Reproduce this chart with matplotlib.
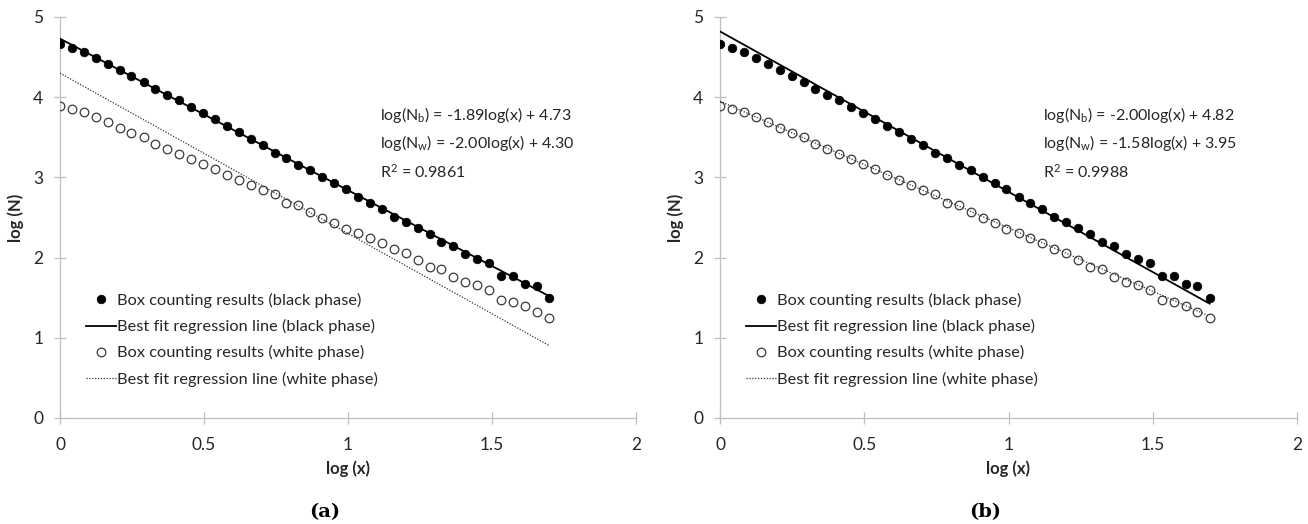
import matplotlib
matplotlib.use("Agg")
import matplotlib.pyplot as plt
import numpy as np

plt.rcParams['font.family'] = ['Lato', 'DejaVu Sans']
plt.rcParams['mathtext.fontset'] = 'custom'
plt.rcParams['mathtext.rm'] = 'Lato'
plt.rcParams['mathtext.it'] = 'Lato:italic'
plt.rcParams['mathtext.bf'] = 'Lato:bold'
plt.rcParams['axes.unicode_minus'] = False

# ---- data ----
log_x = [0.000, 0.041, 0.083, 0.124, 0.166, 0.207, 0.248, 0.290, 0.331, 0.372,
         0.414, 0.455, 0.497, 0.538, 0.579, 0.621, 0.662, 0.704, 0.745, 0.786,
         0.828, 0.869, 0.911, 0.952, 0.993, 1.035, 1.076, 1.117, 1.159, 1.200,
         1.242, 1.283, 1.324, 1.366, 1.407, 1.448, 1.490, 1.531, 1.573, 1.614,
         1.655, 1.697]
log_n_black = [4.66, 4.61, 4.56, 4.49, 4.41, 4.34, 4.26, 4.19, 4.10, 4.03,
               3.96, 3.88, 3.80, 3.73, 3.64, 3.57, 3.48, 3.40, 3.31, 3.24,
               3.15, 3.09, 3.00, 2.93, 2.85, 2.76, 2.68, 2.61, 2.51, 2.45,
               2.37, 2.29, 2.19, 2.14, 2.05, 1.98, 1.93, 1.77, 1.77, 1.67,
               1.64, 1.50]
log_n_white = [3.89, 3.85, 3.81, 3.75, 3.69, 3.62, 3.55, 3.50, 3.42, 3.35,
               3.29, 3.23, 3.17, 3.10, 3.03, 2.97, 2.90, 2.84, 2.79, 2.68,
               2.65, 2.57, 2.49, 2.43, 2.36, 2.31, 2.24, 2.18, 2.11, 2.06,
               1.97, 1.88, 1.86, 1.76, 1.70, 1.66, 1.60, 1.47, 1.45, 1.40,
               1.32, 1.25]

# regression coefficients per panel: (slope, intercept)
fit_black = {'a': (-1.89, 4.73), 'b': (-2.00, 4.82)}
fit_white = {'a': (-2.00, 4.30), 'b': (-1.58, 3.95)}
r_squared = {'a': '0.9861', 'b': '0.9988'}
panel_labels = ['(a)', '(b)']

legend_labels = ['Box counting results (black phase)',
                 'Best fit regression line (black phase)',
                 'Box counting results (white phase)',
                 'Best fit regression line (white phase)']

x_ticks = [0, 0.5, 1, 1.5, 2]
x_tick_labels = ['0', '0.5', '1', '1.5', '2']
y_ticks = [0, 1, 2, 3, 4, 5]

W, H = 1308, 524
fig = plt.figure(figsize=(W / 100, H / 100), dpi=100)

axes_px = {'a': (60, 636), 'b': (720, 1297)}
top_px, bot_px = 17, 418
text_col = '#262626'
grid_col = '#bfbfbf'

for key, plabel in zip(['a', 'b'], panel_labels):
    x0, x1 = axes_px[key]
    aw, ah = x1 - x0, bot_px - top_px
    ax = fig.add_axes([x0 / W, (H - bot_px) / H, aw / W, ah / H])
    xs = np.array(log_x)
    xl = np.array([xs.min(), xs.max()])

    sb, ib = fit_black[key]
    sw, iw = fit_white[key]

    ax.plot(xs, log_n_black, 'o', color='black', ms=6.2, mec='black', mew=0.5,
            zorder=3, label=legend_labels[0])
    ax.plot(xl, sb * xl + ib, '-', color='black', lw=1.3, zorder=4, label=legend_labels[1])
    ax.plot(xs, log_n_white, 'o', mfc='none', mec='#3a3a3a', ms=6.2, mew=0.9,
            zorder=3, label=legend_labels[2])
    ax.plot(xl, sw * xl + iw, color='#333333', lw=0.9, ls=(0, (1, 1.3)), zorder=4,
            label=legend_labels[3])

    ax.set_xlim(0, 2)
    ax.set_ylim(0, 5)
    ax.set_xticks(x_ticks)
    ax.set_xticklabels(x_tick_labels)
    ax.set_yticks(y_ticks)
    for s in ['top', 'right']:
        ax.spines[s].set_visible(False)
    for s in ['left', 'bottom']:
        ax.spines[s].set_color(grid_col)
        ax.spines[s].set_linewidth(0.9)
    ax.tick_params(axis='both', direction='inout', length=8, width=0.9, color=grid_col,
                   labelsize=12.5, labelcolor=text_col)
    ax.tick_params(axis='x', pad=10)
    ax.tick_params(axis='y', pad=8)

    ax.set_xlabel('log (x)', fontsize=12, fontweight='bold', color=text_col)
    ax.set_ylabel('log (N)', fontsize=12, fontweight='bold', color=text_col)
    ax.xaxis.set_label_coords(0.5, -0.105)
    ax.yaxis.set_label_coords(-0.062, 0.5)

    fmt = lambda v: ('%.2f' % v)
    t1 = r'log(N$_{\mathrm{b}}$) = %slog(x) + %s' % (fmt(sb), fmt(ib))
    t2 = r'log(N$_{\mathrm{w}}$) = %slog(x) + %s' % (fmt(sw), fmt(iw))
    t3 = r'R$^{2}$ = ' + r_squared[key]
    tx = 1.11 if key == 'a' else 1.12
    for t, yy in zip([t1, t2, t3], [3.78, 3.43, 3.07]):
        ax.text(tx, yy, t, fontsize=11.5, color=text_col, va='center', ha='left')

    leg = ax.legend(loc='upper left', bbox_to_anchor=(26 / aw, (bot_px - 293) / ah),
                    frameon=False, fontsize=11.8, handlelength=1.8, handletextpad=0.1,
                    labelspacing=0.68, borderpad=0, borderaxespad=0, labelcolor=text_col)

    cx = (x0 + x1) / 2 / W - 0.018
    fig.text(cx, (H - 512) / H, plabel, fontsize=14, fontweight='bold',
             family='DejaVu Serif', ha='center', va='center', color='black')

fig.savefig('out.png', dpi=100)
